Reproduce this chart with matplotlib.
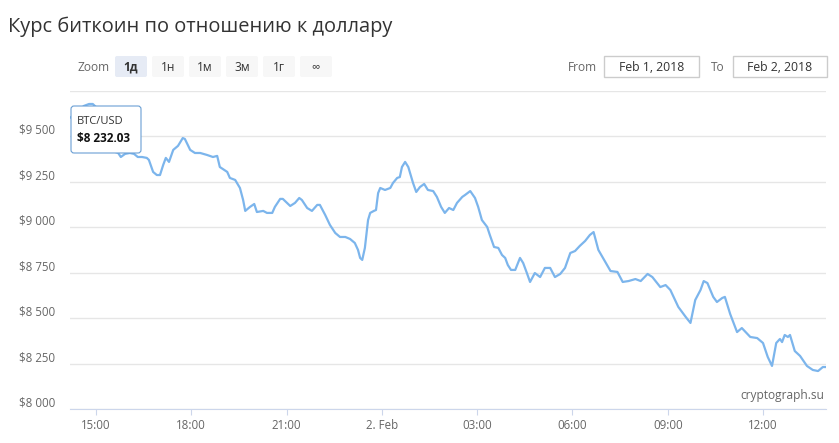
import matplotlib
matplotlib.use('Agg')
import matplotlib.pyplot as plt
import matplotlib.dates as mdates
import pandas as pd
from matplotlib.patches import FancyBboxPatch, Rectangle
from matplotlib.ticker import FuncFormatter
from matplotlib.transforms import ScaledTranslation

plt.rcParams['font.family'] = ['Open Sans', 'DejaVu Sans']

# BTC/USD, 1 Feb 2018 -> 2 Feb 2018
day1_times = ["14:11", "14:26", "14:37", "14:47", "14:54", "15:02", "15:08", "15:17", "15:27", "15:36",
              "15:42", "15:47", "15:55", "16:04", "16:12", "16:19", "16:27", "16:36", "16:40", "16:48",
              "16:55", "17:01", "17:07", "17:12", "17:18", "17:26", "17:35", "17:44", "17:48", "17:58",
              "18:07", "18:17", "18:30", "18:41", "18:49", "18:54", "19:08", "19:13", "19:23", "19:32",
              "19:38", "19:42", "19:51", "19:59", "20:04", "20:16", "20:23", "20:33", "20:38", "20:48",
              "20:53", "21:07", "21:16", "21:24", "21:29", "21:39", "21:48", "21:58", "22:03", "22:13",
              "22:22", "22:32", "22:41", "22:51", "23:00", "23:09", "23:15", "23:19", "23:23", "23:28",
              "23:34", "23:38", "23:45", "23:49", "23:53", "23:57"]
day1_prices = [9600, 9632, 9665, 9676, 9676, 9654, 9600, 9533, 9467, 9413,
               9407, 9385, 9402, 9407, 9402, 9385, 9385, 9380, 9369, 9303,
               9286, 9286, 9341, 9380, 9358, 9424, 9446, 9489, 9484, 9424,
               9407, 9407, 9396, 9385, 9391, 9330, 9303, 9270, 9259, 9215,
               9149, 9089, 9111, 9127, 9083, 9089, 9078, 9078, 9111, 9155,
               9155, 9116, 9133, 9160, 9149, 9105, 9089, 9122, 9122, 9067,
               9012, 8968, 8946, 8946, 8935, 8913, 8875, 8831, 8820, 8886,
               9039, 9078, 9089, 9094, 9187, 9215]

day2_times = ["00:06", "00:16", "00:21", "00:29", "00:34", "00:38", "00:44", "00:50", "00:59", "01:05",
              "01:12", "01:20", "01:27", "01:37", "01:44", "01:52", "01:59", "02:07", "02:15", "02:22",
              "02:32", "02:37", "02:47", "02:56", "03:02", "03:09", "03:19", "03:24", "03:32", "03:40",
              "03:47", "03:53", "03:58", "04:04", "04:12", "04:21", "04:27", "04:34", "04:40", "04:49",
              "04:59", "05:08", "05:18", "05:27", "05:37", "05:46", "05:56", "06:05", "06:14", "06:24",
              "06:33", "06:40", "06:49", "07:01", "07:12", "07:25", "07:35", "07:46", "07:59", "08:09",
              "08:22", "08:31", "08:46", "08:56", "09:05", "09:20", "09:34", "09:43", "09:52", "10:02",
              "10:08", "10:15", "10:26", "10:33", "10:43", "10:48", "10:58", "11:11", "11:20", "11:36",
              "11:49", "12:00", "12:09", "12:17", "12:25", "12:32", "12:36", "12:41", "12:47", "12:51",
              "13:00", "13:10", "13:23", "13:34", "13:44", "13:53", "13:59"]
day2_prices = [9204, 9215, 9242, 9270, 9275, 9330, 9358, 9330, 9242, 9193,
               9220, 9237, 9204, 9198, 9166, 9111, 9078, 9105, 9094, 9133,
               9166, 9176, 9198, 9160, 9111, 9039, 9001, 8957, 8891, 8886,
               8847, 8831, 8792, 8765, 8765, 8831, 8803, 8748, 8699, 8748,
               8726, 8776, 8776, 8726, 8743, 8776, 8858, 8869, 8897, 8924,
               8957, 8973, 8875, 8814, 8759, 8754, 8699, 8704, 8715, 8704,
               8743, 8726, 8671, 8682, 8655, 8562, 8507, 8474, 8600, 8655,
               8704, 8693, 8617, 8589, 8611, 8617, 8523, 8424, 8446, 8397,
               8391, 8364, 8287, 8238, 8364, 8386, 8369, 8408, 8397, 8408,
               8320, 8293, 8238, 8216, 8210, 8232, 8232]

y_ticks = [8000, 8250, 8500, 8750, 9000, 9250, 9500, 9750]
range_buttons = ["1д", "1н", "1м", "3м", "1г", "∞"]

times = pd.to_datetime(["2018-02-01 " + t for t in day1_times] +
                       ["2018-02-02 " + t for t in day2_times])
prices = day1_prices + day2_prices

W, H = 839, 443
fig = plt.figure(figsize=(W / 100, H / 100), dpi=100)

# main plot area
ax = fig.add_axes([70 / W, 1 - 409.3 / H, 756 / W, 318.8 / H])
ax.plot(times, prices, color='#7cb5ec', lw=1.6, solid_joinstyle='round', solid_capstyle='round')
ax.set_xlim(times[0], times[-1])
ax.set_ylim(8000, 9750)

ax.set_yticks(y_ticks)
ax.grid(axis='y', color='#e6e6e6', lw=1)
ax.tick_params(axis='y', length=0, labelleft=False)
for s in ['top', 'right', 'left']:
    ax.spines[s].set_visible(False)
ax.spines['bottom'].set_color('#ccd6eb')

lab_tr = ax.get_yaxis_transform() + ScaledTranslation(-0.15, 0.06, fig.dpi_scale_trans)
for v in y_ticks[:-1]:
    ax.text(0, v, '$' + f'{v:,}'.replace(',', ' '), transform=lab_tr, ha='right', va='center',
            fontsize=8.3, color='#666666')

def fmt_time(x, pos):
    d = mdates.num2date(x)
    if d.hour == 0:
        return d.strftime('%-d. %b')
    return d.strftime('%H:%M')

ax.xaxis.set_major_locator(mdates.HourLocator(byhour=range(0, 24, 3)))
ax.xaxis.set_major_formatter(FuncFormatter(fmt_time))
ax.tick_params(axis='x', length=4.3, color='#ccd6eb', labelcolor='#666666', labelsize=8.3, pad=3)

# overlay in pixel coordinates for title, controls, tooltip
ov = fig.add_axes([0, 0, 1, 1], zorder=5)
ov.set_xlim(0, W)
ov.set_ylim(H, 0)
ov.axis('off')
ov.patch.set_alpha(0)

ov.text(8, 27, "Курс биткоин по отношению к доллару", fontsize=14.4, color='#333333',
        ha='left', va='center')

ov.text(77, 67, "Zoom", fontsize=8.6, color='#666666', ha='left', va='center')
for i, b in enumerate(range_buttons):
    x0 = 115 + i * 37
    sel = (i == 0)
    ov.add_patch(FancyBboxPatch((x0, 56), 32, 21, boxstyle='round,pad=0,rounding_size=2',
                                fc='#e6ebf5' if sel else '#f7f7f7', ec='none'))
    ov.text(x0 + 16, 67, b, fontsize=8.6, color='#333333', ha='center', va='center',
            fontweight='bold' if sel else 'normal')

ov.text(568, 67, "From", fontsize=8.6, color='#666666', ha='left', va='center')
ov.add_patch(Rectangle((604, 56), 95, 21, fc='white', ec='#cccccc', lw=1))
ov.text(651.5, 67, "Feb 1, 2018", fontsize=8.8, color='#333333', ha='center', va='center')
ov.text(711, 67, "To", fontsize=8.6, color='#666666', ha='left', va='center')
ov.add_patch(Rectangle((733, 56), 94, 21, fc='white', ec='#cccccc', lw=1))
ov.text(780, 67, "Feb 2, 2018", fontsize=8.8, color='#333333', ha='center', va='center')

# tooltip
ov.add_patch(FancyBboxPatch((71, 106), 70, 47, boxstyle='round,pad=0,rounding_size=3',
                            fc='white', ec='#6a9fd4', lw=0.8))
ov.text(77, 121, "BTC/USD", fontsize=8, color='#333333', ha='left', va='center')
ov.text(77, 139, "$8 232.03", fontsize=8.5, color='#111111', ha='left', va='center',
        fontweight='bold')

ov.text(824, 395, "cryptograph.su", fontsize=8.6, color='#666666', ha='right', va='center')

fig.savefig('out.png', dpi=100)
